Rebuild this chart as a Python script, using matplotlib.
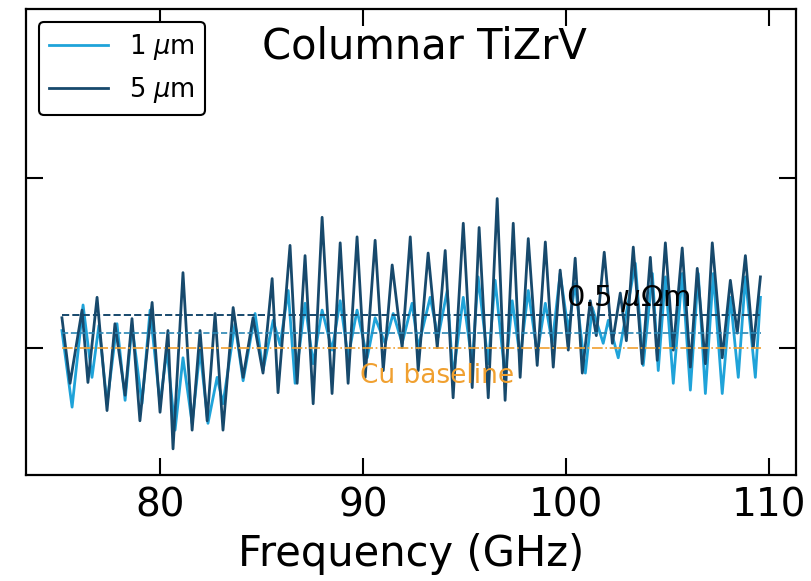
import matplotlib
matplotlib.use("Agg")
import matplotlib.pyplot as plt

# 5 um film, peaks and troughs
freq_5um = [75.17, 75.57, 76.16, 76.45, 76.90, 77.39, 77.78, 78.28, 78.62, 79.01,
            79.61, 80.00, 80.39, 80.64, 81.13, 81.58, 81.97, 82.32, 82.71, 83.10,
            83.60, 84.09, 84.58, 85.07, 85.52, 85.81, 86.40, 86.75, 87.14, 87.54,
            87.98, 88.47, 88.87, 89.26, 89.70, 90.10, 90.59, 90.99, 91.43, 91.92,
            92.32, 92.71, 93.20, 93.65, 94.04, 94.43, 94.93, 95.37, 95.71, 96.16,
            96.60, 96.99, 97.39, 97.73, 98.13, 98.57, 98.97, 99.36, 99.70, 100.10,
            100.44, 100.79, 101.18, 101.48, 101.87, 102.27, 102.66, 102.96, 103.30, 103.74,
            104.14, 104.48, 104.88, 105.27, 105.71, 106.11, 106.45, 106.85, 107.19, 107.68,
            108.08, 108.42, 108.82, 109.21, 109.56]
rs_5um = [1.036, 0.959, 1.045, 0.960, 1.060, 0.927, 1.029, 0.945, 1.035, 0.915,
          1.054, 0.925, 1.021, 0.882, 1.089, 0.904, 1.021, 0.915, 1.041, 0.904,
          1.048, 0.966, 1.036, 0.971, 1.082, 0.948, 1.121, 0.959, 1.109, 0.935,
          1.154, 0.947, 1.124, 0.959, 1.131, 0.966, 1.127, 0.974, 1.098, 1.001,
          1.131, 0.974, 1.112, 1.001, 1.115, 0.942, 1.147, 0.954, 1.142, 0.942,
          1.176, 0.939, 1.147, 0.966, 1.129, 0.980, 1.125, 0.978, 1.092, 0.998,
          1.106, 0.971, 1.056, 1.015, 1.113, 1.006, 1.065, 1.009, 1.119, 0.982,
          1.107, 0.986, 1.124, 0.998, 1.118, 0.978, 1.094, 0.982, 1.124, 0.989,
          1.080, 1.018, 1.109, 1.001, 1.084]

# 1 um film
freq_1um = [75.17, 75.67, 76.21, 76.65, 76.99, 77.39, 77.88, 78.28, 78.62, 79.11,
            79.51, 80.00, 80.34, 80.74, 81.13, 81.58, 81.97, 82.36, 82.81, 83.10,
            83.69, 84.09, 84.68, 85.07, 85.57, 85.91, 86.31, 86.65, 87.14, 87.54,
            87.98, 88.47, 88.87, 89.26, 89.70, 90.20, 90.59, 91.08, 91.48, 91.92,
            92.41, 92.71, 93.30, 93.69, 94.14, 94.43, 94.93, 95.37, 95.66, 96.16,
            96.50, 96.99, 97.34, 97.73, 98.13, 98.57, 98.97, 99.31, 99.70, 100.10,
            100.44, 100.94, 101.28, 101.82, 102.07, 102.56, 103.40, 103.79, 104.24, 104.53,
            104.88, 105.27, 105.71, 106.11, 106.50, 106.85, 107.24, 107.68, 108.08, 108.47,
            108.82, 109.31, 109.56]
rs_1um = [1.021, 0.931, 1.051, 0.966, 1.027, 0.935, 1.029, 0.939, 1.027, 0.935,
          1.045, 0.935, 0.998, 0.904, 0.989, 0.912, 0.998, 0.912, 0.966, 0.935,
          1.029, 0.962, 1.041, 0.974, 1.033, 1.004, 1.068, 0.959, 1.053, 0.982,
          1.045, 0.998, 1.056, 0.989, 1.045, 0.989, 1.036, 1.006, 1.041, 1.006,
          1.053, 1.001, 1.060, 1.013, 1.068, 0.966, 1.060, 0.982, 1.084, 0.982,
          1.080, 0.966, 1.056, 0.989, 1.068, 0.994, 1.053, 1.006, 1.088, 1.021,
          1.076, 0.971, 1.048, 1.006, 1.033, 0.989, 1.100, 0.980, 1.088, 0.974,
          1.084, 0.959, 1.088, 0.951, 1.088, 0.947, 1.088, 0.947, 1.060, 0.966,
          1.084, 0.966, 1.060]

level_05 = 1.039   # 0.5 uOhm m
level_1um = 1.018
cu_base = 1.0
band = [75.17, 109.6]

light = '#1fa3d9'
dark = '#17496c'
orange = '#f0a030'

fig = plt.figure(figsize=(8.12, 5.81), dpi=100)
ax = fig.add_axes([0.032, 0.182, 0.948, 0.803])

ax.plot(freq_1um, rs_1um, color=light, lw=2.0, label=r'1 $\mu$m', solid_joinstyle='round')
ax.plot(freq_5um, rs_5um, color=dark, lw=2.0, label=r'5 $\mu$m', solid_joinstyle='round')
ax.plot(band, [level_05] * 2, '--', color=dark, lw=1.4)
ax.plot(band, [level_1um] * 2, '--', color='#2a86b4', lw=1.2)
ax.plot(band, [cu_base] * 2, '-.', color=orange, lw=1.2)

ax.text(100.0, 1.059, r'0.5 $\mu\Omega$m', fontsize=21, va='center', ha='left')
ax.text(89.85, 0.968, 'Cu baseline', fontsize=19, color=orange, va='center', ha='left')
ax.text(0.306, 0.92, 'Columnar TiZrV', fontsize=30, transform=ax.transAxes, va='center')

ax.set_xlim(73.4, 111.3)
ax.set_ylim(0.851, 1.399)
ax.set_xticks([80, 90, 100, 110])
ax.set_yticks([1.0, 1.2])
ax.set_yticklabels([])
ax.tick_params(direction='in', length=12, width=1.5, top=True, right=True, labelsize=28, pad=8)
for s in ax.spines.values():
    s.set_linewidth(1.6)
ax.set_xlabel('Frequency (GHz)', fontsize=30, labelpad=6)

leg = ax.legend(loc='upper left', fontsize=18.5, handlelength=2.3, frameon=True,
                fancybox=True, edgecolor='black', borderaxespad=0.5)
leg.get_frame().set_linewidth(1.5)
leg.get_frame().set_alpha(1)

fig.savefig('out.png', dpi=100)
